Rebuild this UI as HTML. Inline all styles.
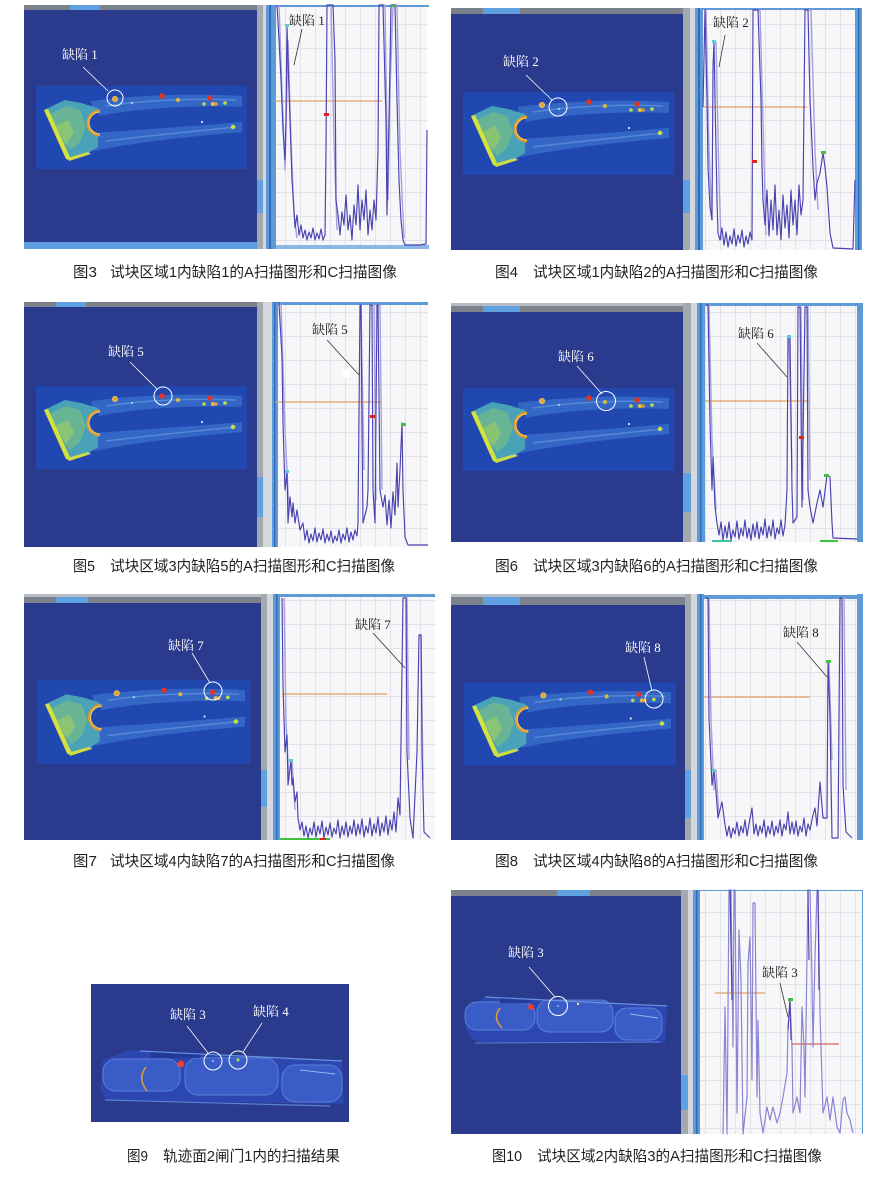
<!DOCTYPE html>
<html><head><meta charset="utf-8"><style>
html,body{margin:0;padding:0;background:#fff;}
svg{display:block;}
.cap{font-family:"Liberation Sans","Noto Sans CJK SC",sans-serif;font-size:15px;fill:#231f20;}
.lw{font-family:"Liberation Serif","Noto Serif CJK SC",serif;font-size:13px;fill:#fff;}
.ld{font-family:"Liberation Serif","Noto Serif CJK SC",serif;font-size:13px;fill:#222;}
.dk{fill:none;stroke:#4a42b0;stroke-width:1.15;stroke-linejoin:round;}
.lt{fill:none;stroke:#a6a0de;stroke-width:1.4;stroke-linejoin:round;}
.or{stroke:#e6a060;stroke-width:1.3;}
</style></head><body>
<svg width="886" height="1177" viewBox="0 0 886 1177" xmlns="http://www.w3.org/2000/svg">
<defs>
<pattern id="g" width="15" height="24" patternUnits="userSpaceOnUse">
<rect width="15" height="24" fill="#f7f7f9"/>
<path d="M0,0.5H15M0.5,0V24" stroke="#e2e3e8" stroke-width="1"/>
</pattern>
<symbol id="spec" viewBox="0 0 211 83" overflow="visible">
<rect width="211" height="83" fill="#2148b0"/>
<path d="M55,15 C100,9 160,7 206,10 L206,21 C160,19 100,22 58,31 Z" fill="#3a70cc" opacity="0.75"/>
<path d="M58,47 C100,44 160,40 206,36 L206,46 C160,50 100,56 58,65 Z" fill="#3a70cc" opacity="0.75"/>
<path d="M70,20 C110,14 160,12 200,14" stroke="#7fb2ea" stroke-width="1.5" fill="none" opacity="0.45"/>
<path d="M70,55 C110,50 160,45 200,41" stroke="#7fb2ea" stroke-width="1.5" fill="none" opacity="0.45"/>
<path d="M8,24 L29,14 L45,17 L62,22 L62,61 L54,66 L33,74 L30,73 Z" fill="#4aa2b8"/>
<path d="M14,28 L30,20 L44,24 L50,40 L44,56 L34,64 L24,52 Z" fill="#78bc88" opacity="0.7"/>
<path d="M20,40 L32,34 L38,46 L30,58 Z" fill="#a0d060" opacity="0.6"/>
<path d="M8,24 L12,23 L34,71 L33,74 L30,73 Z" fill="#d6e23c"/>
<path d="M31,72 L52,66 L55,68 L33,75 Z" fill="#d0dc40"/>
<path d="M63,26 A11,11 0 0 0 63,48 Z" fill="#2148b0"/>
<path d="M64,25 A12,12 0 0 0 64,49" fill="none" stroke="#e39a34" stroke-width="3"/>
<path d="M64,26 A11,11 0 0 0 64,48" fill="none" stroke="#f0d050" stroke-width="1"/>
<circle cx="79" cy="13" r="2.6" fill="#e8a030" stroke="#f0d060" stroke-width="0.8"/>
<circle cx="96" cy="17" r="1.2" fill="#8ad0e0"/>
<circle cx="126" cy="10" r="2.7" fill="#e03424"/>
<circle cx="142" cy="14" r="2" fill="#e0b840"/>
<circle cx="168" cy="18" r="1.8" fill="#b8d840"/>
<circle cx="174" cy="12" r="2.6" fill="#e03424"/>
<circle cx="177" cy="18" r="2" fill="#e8c040"/>
<circle cx="180" cy="18" r="1.8" fill="#e0a030"/>
<circle cx="189" cy="17" r="1.8" fill="#c0e040"/>
<circle cx="197" cy="41" r="2.2" fill="#c8e040"/>
<circle cx="166" cy="36" r="1.1" fill="#d0e8f8"/>
<circle cx="52" cy="67" r="1.2" fill="#a0c8e0"/>
</symbol>
</defs>

<!-- ============ FIG 3 ============ -->
<rect x="24" y="5" width="233" height="244" fill="#2a3a8c"/>
<rect x="24" y="5" width="233" height="5" fill="#7c828c"/>
<rect x="70" y="5" width="30" height="5" fill="#5fa0e0"/>
<rect x="24" y="242" width="233" height="7" fill="#5d9ee0"/>
<rect x="257" y="5" width="6" height="244" fill="#a4a9b0"/>
<rect x="257" y="180" width="6" height="33" fill="#5fa0e0"/>
<rect x="263" y="5" width="3" height="244" fill="#d4d8de"/>
<use href="#spec" x="36" y="86" width="211" height="83"/>
<circle cx="115" cy="98" r="8" fill="none" stroke="#fff" stroke-width="1"/>
<line x1="83" y1="67" x2="108" y2="91" stroke="#fff" stroke-width="0.8"/>
<text class="lw" x="62" y="59">缺陷 1</text>

<rect x="266" y="5" width="10" height="244" fill="#5d9ad6"/>
<rect x="269" y="5" width="2" height="244" fill="#2f6cc0"/>
<rect x="276" y="7" width="151" height="238" fill="url(#g)"/>
<rect x="276" y="5" width="153" height="2" fill="#5d9ad6"/>
<rect x="276" y="245" width="153" height="4" fill="#8ab8e6"/>
<line x1="275" y1="101" x2="382" y2="101" class="or"/>
<path class="lt" d="M279,5 L282,90 L285,170 L288,40 L291,140 L294,215 L297,238 M328,5 L331,5 L334,140 L337,230 M381,5 L385,5 L388,200 L390,90 L393,5 L397,5 L400,150 L404,238"/>
<path class="dk" d="M277,5 L279,40 L281,80 L283,130 L285,160 L286,120 L287,26 L288,60 L290,120 L292,180 L294,210 L295,228 L297,215 L299,235 L301,225 L303,238 L305,230 L307,240 L309,232 L311,238 L313,228 L315,240 L317,233 L319,239 L321,229 L323,240 L325,235 L326,150 L327,5 L330,5 L333,5 L335,60 L336,200 L338,215 L340,235 L342,212 L344,225 L346,195 L348,230 L350,215 L352,240 L354,205 L356,225 L358,185 L360,230 L362,200 L364,220 L366,190 L368,235 L370,210 L372,230 L374,200 L376,220 L378,150 L379,5 L383,5 L386,120 L387,215 L389,120 L391,5 L395,5 L397,100 L399,180 L401,220 L403,240 L405,245 L420,245 L426,244 L427,130"/>
<rect x="285" y="24" width="4" height="3" fill="#58d0d0"/>
<rect x="324" y="113" width="5" height="3" fill="#e02020"/>
<rect x="391" y="5" width="4" height="2" fill="#40c040"/>
<text class="ld" x="289" y="25">缺陷 1</text>
<line x1="302" y1="29" x2="294" y2="65" stroke="#333" stroke-width="0.8"/>
<text class="cap" x="73" y="277" textLength="24" lengthAdjust="spacingAndGlyphs">图3</text>
<text class="cap" x="110" y="277" textLength="287" lengthAdjust="spacingAndGlyphs">试块区域1内缺陷1的A扫描图形和C扫描图像</text>

<!-- ============ FIG 4 ============ -->
<rect x="451" y="8" width="232" height="242" fill="#2a3a8c"/>
<rect x="451" y="8" width="232" height="6" fill="#7c828c"/>
<rect x="483" y="8" width="37" height="6" fill="#5fa0e0"/>
<rect x="683" y="8" width="7" height="242" fill="#a4a9b0"/>
<rect x="683" y="180" width="7" height="33" fill="#5fa0e0"/>
<rect x="690" y="8" width="5" height="242" fill="#d4d8de"/>
<use href="#spec" x="463" y="92" width="211" height="83"/>
<circle cx="558" cy="107" r="9" fill="none" stroke="#fff" stroke-width="1"/>
<line x1="526" y1="75" x2="552" y2="100" stroke="#fff" stroke-width="0.8"/>
<text class="lw" x="503" y="66">缺陷 2</text>

<rect x="695" y="8" width="8" height="242" fill="#5d9ad6"/>
<rect x="698" y="8" width="2" height="242" fill="#2f6cc0"/>
<rect x="703" y="10" width="152" height="240" fill="url(#g)"/>
<rect x="703" y="8" width="152" height="2" fill="#5d9ad6"/>
<rect x="855" y="8" width="7" height="242" fill="#5d9ad6"/>
<rect x="858" y="8" width="1.5" height="242" fill="#2f6cc0"/>
<line x1="703" y1="107" x2="807" y2="107" class="or"/>
<path class="lt" d="M706,10 L709,150 L712,220 M716,42 L719,180 L721,240 M755,10 L760,10 L764,160 L766,235 M807,10 L811,10 L815,150 L818,210"/>
<path class="dk" d="M703,107 L705,10 L707,100 L708,167 L710,207 L712,220 L713,67 L714,42 L715,100 L717,200 L718,233 L720,240 L722,228 L724,245 L726,232 L728,247 L730,236 L732,244 L734,229 L736,246 L738,235 L740,243 L742,230 L744,247 L746,236 L748,244 L750,232 L752,240 L753,10 L758,10 L761,100 L762,167 L763,200 L765,225 L767,190 L769,236 L771,200 L773,230 L775,185 L777,235 L779,210 L781,240 L783,195 L785,228 L787,205 L789,238 L791,190 L793,225 L795,200 L797,235 L799,185 L801,215 L803,200 L805,10 L808,10 L810,100 L813,167 L815,200 L817,183 L820,173 L823,153 L825,167 L827,187 L830,233 L833,248 L853,249 L855,180"/>
<rect x="712" y="40" width="4" height="3" fill="#58d0d0"/>
<rect x="752" y="160" width="5" height="3" fill="#e02020"/>
<rect x="821" y="151" width="5" height="3" fill="#40c040"/>
<text class="ld" x="713" y="27">缺陷 2</text>
<line x1="725" y1="35" x2="719" y2="67" stroke="#333" stroke-width="0.8"/>
<text class="cap" x="495" y="277" textLength="23" lengthAdjust="spacingAndGlyphs">图4</text>
<text class="cap" x="533" y="277" textLength="285" lengthAdjust="spacingAndGlyphs">试块区域1内缺陷2的A扫描图形和C扫描图像</text>

<!-- ============ FIG 5 ============ -->
<rect x="24" y="302" width="233" height="245" fill="#2a3a8c"/>
<rect x="24" y="302" width="233" height="5" fill="#7c828c"/>
<rect x="56" y="302" width="30" height="5" fill="#5fa0e0"/>
<rect x="257" y="302" width="6" height="245" fill="#a4a9b0"/>
<rect x="257" y="477" width="6" height="40" fill="#5fa0e0"/>
<rect x="263" y="302" width="9" height="245" fill="#d4d8de"/>
<use href="#spec" x="36" y="386" width="211" height="83"/>
<circle cx="163" cy="396" r="9" fill="none" stroke="#fff" stroke-width="1"/>
<line x1="130" y1="362" x2="157" y2="389" stroke="#fff" stroke-width="0.8"/>
<text class="lw" x="108" y="356">缺陷 5</text>

<rect x="272" y="302" width="6" height="245" fill="#5d9ad6"/>
<rect x="274" y="302" width="1.5" height="245" fill="#2f6cc0"/>
<rect x="278" y="305" width="150" height="242" fill="url(#g)"/>
<rect x="278" y="302" width="150" height="3" fill="#5d9ad6"/>
<line x1="275" y1="402" x2="382" y2="402" class="or"/>
<rect x="342" y="370" width="8" height="7" fill="#fff"/>
<path class="lt" d="M281,303 L285,430 L289,510 M361,305 L364,470 M369,305 L374,305 L376,500 M376,305 L380,305 L382,490"/>
<path class="dk" d="M278,303 L279,303 L282,357 L283,423 L285,490 L287,472 L288,523 L290,497 L292,517 L293,503 L295,523 L297,510 L300,530 L303,523 L305,540 L307,530 L309,543 L311,534 L313,541 L315,528 L317,542 L319,533 L321,540 L323,529 L325,543 L327,534 L329,541 L331,531 L333,543 L335,536 L337,541 L339,530 L341,543 L343,534 L345,540 L347,528 L349,542 L351,532 L353,540 L355,530 L357,536 L358,523 L360,305 L361,305 L362,430 L363,523 L367,507 L368,490 L370,305 L372,305 L373,490 L375,523 L377,305 L378,305 L380,490 L383,507 L385,495 L387,525 L389,500 L391,528 L393,492 L395,515 L397,463 L398,507 L400,470 L402,423 L403,490 L405,537 L408,545 L428,545"/>
<rect x="285" y="470" width="4" height="3" fill="#58d0d0"/>
<rect x="370" y="415" width="5" height="3" fill="#e02020"/>
<rect x="401" y="423" width="5" height="3" fill="#40c040"/>
<text class="ld" x="312" y="334">缺陷 5</text>
<line x1="327" y1="340" x2="359" y2="375" stroke="#333" stroke-width="0.8"/>
<text class="cap" x="73" y="571" textLength="22" lengthAdjust="spacingAndGlyphs">图5</text>
<text class="cap" x="110" y="571" textLength="285" lengthAdjust="spacingAndGlyphs">试块区域3内缺陷5的A扫描图形和C扫描图像</text>

<!-- ============ FIG 6 ============ -->
<rect x="451" y="303" width="232" height="239" fill="#2a3a8c"/>
<rect x="451" y="303" width="232" height="3" fill="#b8bcc4"/>
<rect x="451" y="306" width="232" height="6" fill="#7c828c"/>
<rect x="483" y="306" width="37" height="6" fill="#5fa0e0"/>
<rect x="683" y="303" width="8" height="239" fill="#a4a9b0"/>
<rect x="683" y="473" width="8" height="39" fill="#5fa0e0"/>
<rect x="691" y="303" width="6" height="239" fill="#d4d8de"/>
<use href="#spec" x="463" y="388" width="211" height="83"/>
<circle cx="606" cy="401" r="9.5" fill="none" stroke="#fff" stroke-width="1"/>
<line x1="577" y1="366" x2="602" y2="394" stroke="#fff" stroke-width="0.8"/>
<text class="lw" x="558" y="361">缺陷 6</text>

<rect x="697" y="303" width="8" height="239" fill="#5d9ad6"/>
<rect x="700" y="303" width="1.5" height="239" fill="#2f6cc0"/>
<rect x="705" y="306" width="152" height="236" fill="url(#g)"/>
<rect x="705" y="303" width="152" height="3" fill="#5d9ad6"/>
<rect x="857" y="303" width="6" height="239" fill="#5d9ad6"/>
<line x1="705" y1="401" x2="810" y2="401" class="or"/>
<path class="lt" d="M709,305 L712,440 L716,510 M789,337 L792,470 M799,307 L801,307 L803,500 M806,307 L808,307 L810,480"/>
<path class="dk" d="M706,305 L707,305 L708,305 L710,423 L712,490 L713,457 L715,507 L717,523 L719,535 L721,522 L723,540 L725,526 L727,538 L729,522 L731,540 L733,530 L735,537 L737,521 L739,539 L741,528 L743,536 L745,520 L747,538 L749,528 L751,540 L753,524 L755,537 L757,522 L759,539 L761,527 L763,535 L765,519 L767,538 L769,526 L771,536 L773,520 L775,539 L777,528 L779,534 L781,520 L783,536 L785,525 L787,490 L788,337 L790,337 L792,490 L793,523 L797,517 L798,307 L800,307 L802,507 L805,307 L807,307 L808,490 L810,507 L813,523 L817,503 L820,490 L823,507 L827,475 L830,477 L832,523 L833,538 L857,539"/>
<rect x="787" y="335" width="4" height="3" fill="#58d0d0"/>
<rect x="799" y="436" width="5" height="3" fill="#e02020"/>
<rect x="824" y="474" width="5" height="3" fill="#40c040"/>
<rect x="712" y="540" width="20" height="2" fill="#40c0a0"/>
<rect x="820" y="540" width="18" height="2" fill="#40c040"/>
<text class="ld" x="738" y="338">缺陷 6</text>
<line x1="757" y1="343" x2="787" y2="377" stroke="#333" stroke-width="0.8"/>
<text class="cap" x="495" y="571" textLength="23" lengthAdjust="spacingAndGlyphs">图6</text>
<text class="cap" x="533" y="571" textLength="285" lengthAdjust="spacingAndGlyphs">试块区域3内缺陷6的A扫描图形和C扫描图像</text>

<!-- ============ FIG 7 ============ -->
<rect x="24" y="597" width="237" height="243" fill="#2a3a8c"/>
<rect x="24" y="594" width="237" height="3" fill="#b8bcc4"/>
<rect x="24" y="597" width="237" height="6" fill="#7c828c"/>
<rect x="56" y="597" width="32" height="6" fill="#5fa0e0"/>
<rect x="261" y="594" width="6" height="246" fill="#a4a9b0"/>
<rect x="261" y="770" width="6" height="37" fill="#5fa0e0"/>
<rect x="267" y="594" width="6" height="246" fill="#d4d8de"/>
<use href="#spec" x="37" y="680" width="213" height="84"/>
<circle cx="213" cy="691" r="9" fill="none" stroke="#fff" stroke-width="1"/>
<line x1="192" y1="653" x2="210" y2="683" stroke="#fff" stroke-width="0.8"/>
<text class="lw" x="168" y="650">缺陷 7</text>

<rect x="273" y="594" width="7" height="246" fill="#5d9ad6"/>
<rect x="276" y="594" width="1.5" height="246" fill="#2f6cc0"/>
<rect x="280" y="597" width="155" height="243" fill="url(#g)"/>
<rect x="280" y="594" width="155" height="3" fill="#5d9ad6"/>
<line x1="282" y1="694" x2="387" y2="694" class="or"/>
<path class="lt" d="M284,598 L286,720 L289,780 M292,760 L295,810 M405,598 L407,598 L409,760 M419,635 L421,635 L423,780"/>
<path class="dk" d="M282,598 L283,685 L285,752 L287,735 L288,785 L291,760 L292,785 L293,778 L295,802 L297,792 L298,818 L300,830 L302,822 L304,836 L306,826 L308,838 L310,828 L312,835 L314,822 L316,837 L318,826 L320,834 L322,821 L324,838 L326,827 L328,835 L330,823 L332,837 L334,828 L336,834 L338,820 L340,838 L342,826 L344,835 L346,822 L348,837 L350,826 L352,834 L354,820 L356,836 L358,824 L360,834 L362,819 L364,837 L366,826 L368,833 L370,818 L372,836 L374,824 L376,833 L378,817 L380,836 L382,823 L384,832 L386,816 L388,835 L390,820 L392,830 L394,812 L396,832 L398,798 L400,815 L403,598 L406,598 L407,752 L410,818 L413,838 L417,752 L419,635 L421,635 L422,752 L424,832 L430,838"/>
<rect x="289" y="759" width="4" height="3" fill="#58d0d0"/>
<rect x="280" y="838" width="50" height="2" fill="#40c040"/>
<rect x="320" y="838" width="6" height="2" fill="#e02020"/>
<text class="ld" x="355" y="629">缺陷 7</text>
<line x1="373" y1="633" x2="405" y2="668" stroke="#333" stroke-width="0.8"/>
<text class="cap" x="73" y="866" textLength="24" lengthAdjust="spacingAndGlyphs">图7</text>
<text class="cap" x="110" y="866" textLength="285" lengthAdjust="spacingAndGlyphs">试块区域4内缺陷7的A扫描图形和C扫描图像</text>

<!-- ============ FIG 8 ============ -->
<rect x="451" y="597" width="234" height="243" fill="#2a3a8c"/>
<rect x="451" y="594" width="234" height="3" fill="#b8bcc4"/>
<rect x="451" y="597" width="234" height="8" fill="#7c828c"/>
<rect x="483" y="597" width="37" height="8" fill="#5fa0e0"/>
<rect x="685" y="594" width="6" height="246" fill="#a4a9b0"/>
<rect x="685" y="770" width="6" height="48" fill="#5fa0e0"/>
<rect x="691" y="594" width="6" height="246" fill="#d4d8de"/>
<use href="#spec" x="464" y="682" width="212" height="84"/>
<circle cx="654" cy="699" r="9" fill="none" stroke="#fff" stroke-width="1"/>
<line x1="644" y1="657" x2="652" y2="691" stroke="#fff" stroke-width="0.8"/>
<text class="lw" x="625" y="652">缺陷 8</text>

<rect x="697" y="594" width="7" height="246" fill="#5d9ad6"/>
<rect x="700" y="594" width="1.5" height="246" fill="#2f6cc0"/>
<rect x="704" y="599" width="153" height="241" fill="url(#g)"/>
<rect x="704" y="595" width="153" height="4" fill="#5d9ad6"/>
<rect x="857" y="594" width="6" height="246" fill="#5d9ad6"/>
<line x1="704" y1="697" x2="810" y2="697" class="or"/>
<path class="lt" d="M709,598 L711,720 L714,790 M716,770 L719,815 M829,662 L832,760 M842,598 L844,598 L846,790"/>
<path class="dk" d="M706,598 L708,598 L709,718 L712,785 L714,770 L716,792 L718,818 L722,802 L725,825 L727,836 L729,826 L731,838 L733,828 L735,834 L737,822 L739,836 L741,826 L743,833 L745,820 L747,836 L749,824 L752,808 L754,834 L756,824 L758,836 L760,826 L762,833 L764,820 L766,837 L768,826 L770,834 L772,821 L774,836 L776,826 L778,833 L780,820 L782,836 L784,824 L786,830 L788,812 L790,834 L792,822 L794,834 L796,821 L798,836 L800,826 L802,832 L804,818 L806,836 L808,824 L810,830 L813,815 L815,808 L817,826 L820,782 L823,818 L827,818 L828,662 L830,718 L832,838 L838,838 L840,598 L842,598 L843,785 L846,832 L852,838"/>
<rect x="712" y="769" width="4" height="3" fill="#58d0d0"/>
<rect x="826" y="660" width="5" height="3" fill="#40c040"/>
<text class="ld" x="783" y="637">缺陷 8</text>
<line x1="797" y1="642" x2="827" y2="677" stroke="#333" stroke-width="0.8"/>
<text class="cap" x="495" y="866" textLength="23" lengthAdjust="spacingAndGlyphs">图8</text>
<text class="cap" x="533" y="866" textLength="285" lengthAdjust="spacingAndGlyphs">试块区域4内缺陷8的A扫描图形和C扫描图像</text>

<!-- ============ FIG 9 ============ -->
<rect x="91" y="984" width="258" height="138" fill="#2a3a8c"/>
<path d="M130,1050 L342,1060 L344,1104 L110,1100 Q100,1098 101,1080 L103,1060 Z" fill="#2c48b0"/>
<rect x="103" y="1059" width="77" height="32" rx="13" fill="#3a5cc6" stroke="#5a80d8" stroke-width="1"/>
<rect x="185" y="1058" width="93" height="37" rx="13" fill="#3a5cc6" stroke="#5a80d8" stroke-width="1"/>
<rect x="282" y="1065" width="60" height="37" rx="13" fill="#3a5cc6" stroke="#5a80d8" stroke-width="1"/>
<rect x="150" y="1051" width="50" height="7" fill="#243a98"/>
<path d="M140,1051 L342,1061" stroke="#6a90e0" stroke-width="1.2"/>
<path d="M105,1100 L330,1106" stroke="#5a80d8" stroke-width="1.2"/>
<path d="M300,1070 L335,1074" stroke="#90b8f0" stroke-width="1"/>
<path d="M146,1067 Q137,1078 147,1091" fill="none" stroke="#e09a40" stroke-width="1.5"/>
<circle cx="181" cy="1064" r="3.2" fill="#ff3a20"/>
<circle cx="213" cy="1061" r="9" fill="none" stroke="#fff" stroke-width="1"/>
<circle cx="238" cy="1060" r="9" fill="none" stroke="#fff" stroke-width="1"/>
<circle cx="213" cy="1061" r="1" fill="#a0e0f0"/>
<circle cx="238" cy="1060" r="1.5" fill="#b0e040"/>
<line x1="187" y1="1026" x2="208" y2="1053" stroke="#fff" stroke-width="0.8"/>
<line x1="262" y1="1023" x2="243" y2="1052" stroke="#fff" stroke-width="0.8"/>
<text class="lw" x="170" y="1019">缺陷 3</text>
<text class="lw" x="253" y="1016">缺陷 4</text>
<text class="cap" x="127" y="1161" textLength="21" lengthAdjust="spacingAndGlyphs">图9</text>
<text class="cap" x="163" y="1161" textLength="177" lengthAdjust="spacingAndGlyphs">轨迹面2闸门1内的扫描结果</text>

<!-- ============ FIG 10 ============ -->
<rect x="451" y="890" width="230" height="244" fill="#2a3a8c"/>
<rect x="451" y="890" width="230" height="6" fill="#7c828c"/>
<rect x="557" y="890" width="33" height="6" fill="#5fa0e0"/>
<rect x="681" y="890" width="7" height="244" fill="#a4a9b0"/>
<rect x="681" y="1075" width="7" height="35" fill="#5fa0e0"/>
<rect x="688" y="890" width="5" height="244" fill="#d4d8de"/>
<path d="M485,997 L667,1006 L665,1043 L480,1042 Q466,1040 465,1020 Z" fill="#2c48b0"/>
<rect x="465" y="1002" width="70" height="28" rx="12" fill="#3a5cc6" stroke="#5a80d8" stroke-width="1"/>
<rect x="537" y="1000" width="76" height="32" rx="12" fill="#3a5cc6" stroke="#5a80d8" stroke-width="1"/>
<rect x="615" y="1008" width="47" height="32" rx="12" fill="#3a5cc6" stroke="#5a80d8" stroke-width="1"/>
<rect x="500" y="997" width="30" height="6" fill="#243a98"/>
<path d="M485,997 L667,1006" stroke="#6a90e0" stroke-width="1.2"/>
<path d="M475,1043 L660,1042" stroke="#5a80d8" stroke-width="1"/>
<path d="M630,1014 L658,1018" stroke="#90b8f0" stroke-width="1"/>
<path d="M500,1008 Q492,1018 502,1028" fill="none" stroke="#e09a40" stroke-width="1.5"/>
<circle cx="531" cy="1007" r="2.8" fill="#ff3a20"/>
<circle cx="558" cy="1006" r="9.5" fill="none" stroke="#fff" stroke-width="1"/>
<circle cx="558" cy="1006" r="0.9" fill="#a0e0f0"/>
<circle cx="578" cy="1004" r="1.2" fill="#e0e080"/>
<line x1="529" y1="967" x2="555" y2="997" stroke="#fff" stroke-width="0.8"/>
<text class="lw" x="508" y="957">缺陷 3</text>

<rect x="693" y="890" width="7" height="244" fill="#5d9ad6"/>
<rect x="696" y="890" width="1.5" height="244" fill="#2f6cc0"/>
<rect x="700" y="890" width="163" height="244" fill="url(#g)"/>
<rect x="862" y="890" width="1" height="244" fill="#5d9ad6"/>
<rect x="700" y="890" width="163" height="1" fill="#5d9ad6"/>
<line x1="715" y1="993" x2="765" y2="993" class="or"/>
<line x1="792" y1="1044" x2="839" y2="1044" stroke="#d86060" stroke-width="1.2"/>
<path fill="none" stroke="#8a84d4" stroke-width="1.2" stroke-linejoin="round" d="M723,1134 L725,1007 L727,1134 L729,890 L731,890 L733,1047 L734,890 L735,890 L737,1113 L739,930 L741,980 L743,1134 L747,1097 L748,963 L750,937 L752,1080 L753,903 L755,903 L757,1097 L758,1020 L760,1113 L763,1133 L767,1107 L770,1120 L773,1107 L777,1123 L780,1113 L783,1097 L787,1073 L788,1030 L790,1000 L792,1047 L793,1113 L797,1097 L800,1113 L802,1007 L804,1047 L805,1097 L807,957 L808,890 L810,890 L812,980 L813,1047 L815,957 L817,890 L818,890 L820,1013 L823,1113 L827,1097 L830,1120 L833,1097 L837,1127 L840,1133 L843,1100 L845,1097 L847,1113 L850,1120 L853,1133"/>
<path class="dk" d="M730,890 L732,1000 M788,1030 L790,1000 L791,1040 M808,890 L809,960 M818,890 L819,990"/>
<rect x="788" y="998" width="5" height="3" fill="#40c040"/>
<text class="ld" x="762" y="977">缺陷 3</text>
<line x1="780" y1="983" x2="788" y2="1017" stroke="#333" stroke-width="0.8"/>
<text class="cap" x="492" y="1161" textLength="30" lengthAdjust="spacingAndGlyphs">图10</text>
<text class="cap" x="537" y="1161" textLength="285" lengthAdjust="spacingAndGlyphs">试块区域2内缺陷3的A扫描图形和C扫描图像</text>
</svg>
</body></html>
